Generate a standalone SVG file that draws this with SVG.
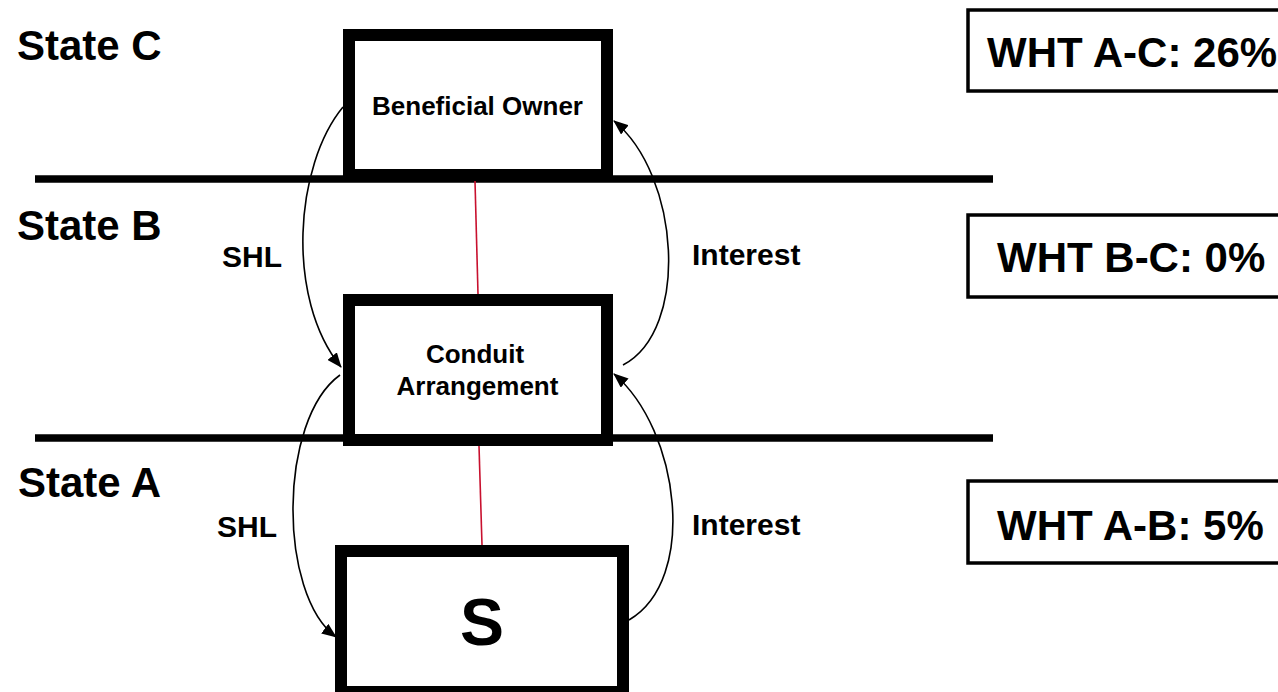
<svg xmlns="http://www.w3.org/2000/svg" width="1278" height="692" viewBox="0 0 1278 692">
<style>
text{font-family:"Liberation Sans",Arial,sans-serif;font-weight:bold;fill:#000}
.state{font-size:42px}
.lbl{font-size:30px}
.node{font-size:26px}
.wht{font-size:42px}
.box{fill:#fff;stroke:#000;stroke-width:12}
.wbox{fill:#fff;stroke:#000;stroke-width:3.5}
.div{stroke:#000;stroke-width:7.5}
.flow{fill:none;stroke:#000;stroke-width:1.6}
.link{stroke:#c8102e;stroke-width:1.6}
</style>
<defs>
<marker id="ah" markerWidth="15" markerHeight="12" refX="14" refY="6" orient="auto" markerUnits="userSpaceOnUse">
<path d="M0,0 L15,6 L0,12 z" fill="#000"/>
</marker>
</defs>
<g id="dividers">
<line class="div" x1="35" y1="179" x2="993" y2="179"/>
<line class="div" x1="35" y1="438" x2="993" y2="438"/>
</g>
<g id="labels">
<text class="state" x="17" y="60">State C</text>
<text class="state" x="17" y="240">State B</text>
<text class="state" x="18" y="497">State A</text>
<text class="lbl" x="222" y="267">SHL</text>
<text class="lbl" x="217" y="537">SHL</text>
<text class="lbl" x="692" y="265">Interest</text>
<text class="lbl" x="692" y="535">Interest</text>
</g>
<g id="connectors">
<line class="link" x1="475" y1="181" x2="478" y2="294"/>
<line class="link" x1="479" y1="446" x2="482" y2="545"/>
<path class="flow" d="M343,107 C295,165 285,298 341,367" marker-end="url(#ah)"/>
<path class="flow" d="M340,375 C278,420 278,594 336,637" marker-end="url(#ah)"/>
<path class="flow" d="M623,365 C690,330 680,175 614,121" marker-end="url(#ah)"/>
<path class="flow" d="M629,620 C698,580 680,430 614,374" marker-end="url(#ah)"/>
</g>
<g id="node-beneficial-owner">
<rect class="box" x="349" y="35" width="258" height="140"/>
<text class="node" x="477.5" y="115" text-anchor="middle">Beneficial Owner</text>
</g>
<g id="node-conduit">
<rect class="box" x="349" y="300" width="258" height="140"/>
<text class="node" x="475" y="363" text-anchor="middle">Conduit</text>
<text class="node" x="477.5" y="395" text-anchor="middle">Arrangement</text>
</g>
<g id="node-s">
<rect class="box" x="341" y="551" width="282" height="141"/>
<text x="482" y="645" text-anchor="middle" style="font-size:66px">S</text>
</g>
<g id="wht-ac">
<rect class="wbox" x="968" y="10" width="330" height="81"/>
<text class="wht" x="987" y="67">WHT A-C: 26%</text>
</g>
<g id="wht-bc">
<rect class="wbox" x="968" y="215" width="330" height="82"/>
<text class="wht" x="997" y="272">WHT B-C: 0%</text>
</g>
<g id="wht-ab">
<rect class="wbox" x="968" y="481" width="330" height="82"/>
<text class="wht" x="997" y="540">WHT A-B: 5%</text>
</g>
</svg>
